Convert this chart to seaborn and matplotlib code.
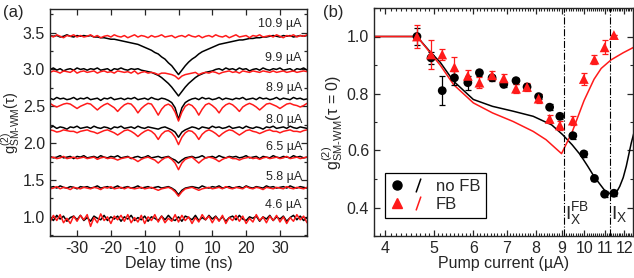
import numpy as np
import matplotlib
matplotlib.use("Agg")
import matplotlib.pyplot as plt
import seaborn as sns
from matplotlib.lines import Line2D
from matplotlib.path import Path
from matplotlib.legend_handler import HandlerTuple
from matplotlib.ticker import FixedLocator, NullFormatter, MultipleLocator

# ---------------- panel (a): g2 traces, deviations from baseline in 1/100 ----
tau = np.arange(-38, 39, 1)

labels_a = ["10.9 µA", "9.9 µA", "8.9 µA", "8.0 µA", "6.5 µA", "5.8 µA", "4.6 µA"]
label_y = [3.62, 3.15, 2.75, 2.32, 1.95, 1.54, 1.16]
base_black = [3.45, 3.00, 2.60, 2.21, 1.81, 1.40, 0.98]
base_red = [3.45, 2.97, 2.53, 2.17, 1.80, 1.39, 0.97]

bk109 = [1, 0, 1, -1, 0, 2, 0, -1, 1, 0, 1,
         0, 1, -1, -1, -2, -2, -3, -4, -4, -5, -6,
         -7, -8, -9, -10, -11, -13, -15, -17, -19, -22, -24,
         -28, -31, -36, -40, -46, -52, -46, -40, -35, -31, -28,
         -24, -21, -19, -17, -15, -13, -11, -10, -9, -8, -7,
         -6, -5, -5, -4, -3, -3, -2, -2, -1, -1, 0,
         1, 0, -1, 1, 0, 1, -1, 0, 1, 0, 1]
rd109 = [1, -1, 2, 0, -2, 1, 0, 2, -1, 1, -1,
         0, 2, -1, 1, -2, 0, 1, -1, 2, 0, -1,
         1, -2, 0, 2, -1, 1, 0, -2, 1, -1, 0,
         2, -1, 0, 1, -2, 0, 1, -1, 2, 0, -1,
         1, -2, 0, 1, -1, 2, 0, -1, 1, -2, 0,
         2, -1, 0, 1, -2, 1, 0, 2, -1, 0, 1,
         -1, 2, 0, -2, 1, 0, 2, -1, 1, 0, 2]
bk99 = [0, 2, -1, 1, -2, 0, 1, -1, 2, 0, 1,
        -1, 1, 0, 2, -1, 0, 1, -2, 1, 0, 2,
        0, -1, 1, 0, 1, -1, -2, -3, -4, -6, -8,
        -11, -15, -19, -24, -30, -36, -30, -24, -19, -15, -11,
        -8, -6, -4, -3, -2, 0, 1, -1, 2, 0, 1,
        -1, 2, 0, 1, -2, 0, 1, -1, 2, 0, -1,
        1, 0, 2, -1, 0, 1, -2, 1, 0, 2, -1]
rd99 = [-1, 1, 0, -2, 1, 0, -1, 2, -2, 0, 1,
        -1, 0, 1, -2, 0, 1, -1, 0, -2, 1, 0,
        -1, 0, -2, 1, -3, -1, 0, -2, -1, -2, -4,
        -2, -2, -3, -4, -6, -10, -6, -4, -3, -2, -1,
        -4, -2, -1, -2, 0, -1, -3, -1, 0, 1, -1,
        0, -2, 1, 0, -1, 1, 0, -1, 1, 0, -1,
        1, -1, 0, 1, -1, 0, 1, -1, 0, 1, 0]
bk89 = [1, -1, 2, 0, 1, -1, 0, 2, -1, 1, 0,
        2, -1, 0, 1, -2, 1, 0, 2, -1, 0, 1,
        -1, 1, 0, 2, -1, 0, 1, -1, 2, 0, -1,
        1, 0, -2, -5, -12, -28, -12, -5, -2, 0, 1,
        -1, 2, 0, 1, -1, 0, 2, -1, 1, 0, -1,
        1, 0, 2, -1, 0, 1, -1, 2, 0, 1, -1,
        0, 2, -1, 1, 0, -1, 2, 0, 1, -1, 0]
rd89 = [1, -2, -4, -2, 0, 1, 0, -3, -6, -3, -1,
        1, 0, -4, -8, -4, -1, 1, -2, -5, -10, -5,
        -1, 1, 0, -5, -12, -6, -2, 1, 0, -7, -15,
        -7, -2, 0, -3, -11, -23, -11, -3, 0, -2, -7,
        -15, -7, -1, 1, -2, -6, -12, -5, -1, 1, -1,
        -5, -10, -4, -1, 1, -1, -4, -8, -4, 0, 1,
        -1, -3, -6, -3, 0, 1, -1, -2, -4, -2, 1]
bk80 = [0, 2, -1, 1, 0, -2, 1, 0, 2, -1, 0,
        1, -1, 2, 0, -1, 1, 0, -2, 1, 0, 2,
        -1, 0, 1, -1, 2, 0, -1, 1, 0, -1, -2,
        0, 1, -1, -3, -6, -13, -6, -3, -1, 1, 0,
        -2, 1, 0, -1, 2, 0, 1, -1, 0, 2, -1,
        0, 1, -1, 2, 0, -1, 1, 0, -2, 1, 0,
        2, -1, 0, 1, -1, 2, 0, -1, 1, 0, -1]
rd80 = [1, 0, -2, -1, 1, 0, -1, -1, -3, -1, 0,
        1, -1, -2, -4, -2, 0, 1, -1, -3, -6, -3,
        0, 1, -1, -4, -8, -4, -1, 1, -1, -5, -12,
        -5, -1, 0, -3, -9, -19, -9, -3, 0, -1, -5,
        -12, -5, -1, 1, -1, -4, -8, -4, -1, 1, 0,
        -3, -6, -3, 0, 1, -1, -2, -4, -2, 0, 1,
        -1, -1, -3, -1, 0, 1, -1, -1, -2, 0, 1]
bk65 = [1, -1, 0, 2, -1, 0, 1, -2, 1, 0, 2,
        -1, 0, 1, -1, 2, 0, -1, 1, 0, 2, -1,
        0, 1, -2, 0, 1, -1, 0, 2, -1, 0, 1,
        -1, 0, 1, -2, -4, -8, -4, -1, 0, 1, -1,
        0, 2, -1, 0, 1, -1, 2, 0, -1, 1, 0,
        1, -1, 0, 2, -1, 0, 1, -2, 1, 0, -1,
        2, 0, -1, 1, 0, -1, 2, 0, 1, -1, 0]
rd65 = [0, 1, -1, 0, 2, -1, 0, 1, -1, 0, 1,
        -1, 0, 1, -2, 0, 1, -1, 0, -1, -3, -1,
        0, 1, 0, -2, -5, -2, 0, 1, -1, -3, -7,
        -3, 0, 1, -2, -7, -16, -7, -2, 0, 1, -3,
        -7, -3, 0, 1, 0, -2, -5, -2, 0, 1, -1,
        -1, -3, -1, 0, 1, -1, 0, -2, 0, 1, -1,
        0, 1, -1, 0, 2, -1, 0, 1, -1, 0, 1]
bk58 = [0, 1, -1, 2, 0, -1, 1, 0, -2, 1, 0,
        1, -1, 0, 2, -1, 0, 1, -1, 0, 2, -1,
        0, 1, -1, 0, 2, -1, 0, 1, -1, 0, 1,
        -1, 0, 1, -1, -4, -10, -4, -1, 0, 1, 0,
        -1, 2, 0, -1, 1, 0, 2, -1, 0, 1, -1,
        0, 1, -1, 2, 0, -1, 1, 0, -1, 2, 0,
        1, -1, 0, 1, -1, 2, 0, -1, 1, 0, -1]
rd58 = [-1, 0, 2, -1, 1, 0, -2, 1, 0, -1, 1,
        0, -1, 1, 0, -2, 1, 0, 2, -1, 0, 1,
        -1, 1, 0, -1, 0, 1, -1, 0, 1, -1, -3,
        -1, 0, 1, -1, -5, -11, -5, -1, 0, 1, -1,
        -3, -1, 0, 1, -1, 0, 1, -1, 2, 0, -1,
        1, 0, -1, 2, 0, -1, 1, 0, -2, 1, 0,
        -1, 1, 0, -1, 2, 0, -1, 1, 0, -1, 1]
bk46 = [2, -3, 4, -1, 3, -4, 1, 3, -2, 4, -3,
        1, -4, 3, 0, -2, 4, -3, 2, -1, 3, -4,
        2, -1, 4, -3, 1, -2, 3, -4, 2, 0, -3,
        3, -2, 4, -1, -3, 2, -4, 3, 1, -2, 4,
        -3, 1, -2, 4, -1, 3, -3, 2, -4, 1, 3,
        -2, 4, -1, -3, 2, 0, 3, -4, 2, -1, 4,
        -3, 2, -1, 3, -4, 1, 4, -2, 3, -3, 1]
rd46 = [-4, 5, -2, 6, -5, 1, -6, 4, -3, 5, -1,
        6, -10, 2, -5, 7, -2, 3, -6, 4, -1, 5,
        -3, 6, -5, 2, -4, 5, -6, 3, -2, 6, -4,
        4, -5, 1, -3, 6, -4, 5, -2, 3, -6, 2,
        -4, 6, -1, 4, -5, 3, -3, 5, -6, 2, -2,
        5, -3, 4, -6, 1, -4, 6, -2, 3, -5, 4,
        -2, 5, -4, 3, -6, 2, -3, 6, -1, 4, -5]

black_traces = [bk109, bk99, bk89, bk80, bk65, bk58, bk46]
red_traces = [rd109, rd99, rd89, rd80, rd65, rd58, rd46]

# ---------------- panel (b): g2(0) vs pump current ----------------------
current = [4.63, 4.94, 5.20, 5.50, 5.85, 6.17, 6.54, 6.90, 7.30, 7.68,
           8.10, 8.52, 8.93, 9.48, 9.97, 10.47, 10.97, 11.45]
g_nofb = [1.00, 0.925, 0.81, 0.855, 0.838, 0.873, 0.855, 0.832, 0.845, 0.823,
          0.789, 0.752, 0.72, 0.652, 0.588, 0.502, 0.447, 0.45]
err_nofb = [0.03, 0.02, 0.052, 0.025, 0.025, 0.01, 0.01, 0.01, 0.01, 0.01,
            0.01, 0.01, 0.01, 0.01, 0.01, 0.01, 0.01, 0.01]
g_fb = [1.00, 0.937, 0.937, 0.892, 0.862, 0.838, 0.864, 0.853, 0.817, 0.823,
        0.782, 0.711, 0.688, 0.705, 0.851, 0.919, 0.962, 1.005]
err_fb = [0.04, 0.05, 0.02, 0.035, 0.02, 0.02, 0.015, 0.015, 0.015, 0.015,
          0.015, 0.015, 0.015, 0.015, 0.02, 0.015, 0.025, 0.0]

model_I_nofb = [3.8, 4.63, 4.92, 5.15, 5.48, 6.0, 6.55, 7.2, 7.9, 8.6, 9.04,
                9.45, 9.81, 10.15, 10.45, 10.95, 11.2, 11.4, 11.6, 11.76,
                11.95, 12.12, 12.4, 12.6]
model_g_nofb = [1.0, 1.0, 0.946, 0.91, 0.843, 0.779, 0.755, 0.738, 0.72, 0.69,
                0.656, 0.62, 0.585, 0.545, 0.509, 0.462, 0.45, 0.445, 0.455,
                0.474, 0.505, 0.545, 0.626, 0.673]
model_I_fb = [3.8, 4.63, 4.92, 5.15, 5.48, 6.0, 6.55, 7.2, 7.9, 8.38, 9.0,
              9.45, 9.98, 10.45, 10.8, 11.3, 11.95, 12.6]
model_g_fb = [1.0, 1.0, 0.943, 0.90, 0.831, 0.767, 0.732, 0.702, 0.667, 0.638,
              0.589, 0.665, 0.775, 0.85, 0.888, 0.918, 0.943, 0.964]

I_x_fb = 9.1
I_x = 11.25
xticks_b = [4, 5, 6, 7, 8, 9, 10, 11, 12]

# ---------------- style ----------------
sns.set_style("ticks")
plt.rcParams["font.family"] = ["Liberation Sans", "DejaVu Sans"]
plt.rcParams["mathtext.fontset"] = "custom"
plt.rcParams["mathtext.rm"] = "Liberation Sans"
plt.rcParams["mathtext.it"] = "Liberation Sans:italic"
plt.rcParams["axes.unicode_minus"] = False
plt.rcParams["xtick.direction"] = "in"
plt.rcParams["ytick.direction"] = "in"
plt.rcParams["xtick.top"] = True
plt.rcParams["ytick.right"] = True
plt.rcParams["axes.linewidth"] = 1.0

fs = 11.5
fig = plt.figure(figsize=(6.34, 2.78), dpi=100)
ax1 = fig.add_axes([50 / 634, 42 / 278, 257 / 634, 227 / 278])
ax2 = fig.add_axes([374 / 634, 42 / 278, 259 / 634, 228 / 278])

# panel (a)
for lab, ly, bb, br, bk, rd in zip(labels_a, label_y, base_black, base_red,
                                   black_traces, red_traces):
    sns.lineplot(x=tau, y=bb + np.array(bk) / 100, color="black", lw=1.1,
                 ax=ax1, sort=False)
    sns.lineplot(x=tau, y=br + np.array(rd) / 100, color="#ff1a1a", lw=1.1,
                 ax=ax1, sort=False)
    ax1.text(36.5, ly, lab, ha="right", va="center", fontsize=9)

ax1.set_xlim(-38, 38)
ax1.set_ylim(0.74, 3.82)
ax1.xaxis.set_major_locator(MultipleLocator(10))
ax1.yaxis.set_major_locator(MultipleLocator(0.5))
ax1.yaxis.set_minor_locator(MultipleLocator(0.25))
ax1.tick_params(which="major", length=4, width=0.9, labelsize=fs)
ax1.tick_params(which="minor", length=2.5, width=0.9, left=True, right=True)
ax1.set_xlabel("Delay time (ns)", fontsize=fs, labelpad=0)
ax1.set_ylabel(r"g$^{(2)}_{\mathrm{SM}\text{-}\mathrm{WM}}$(τ)", fontsize=10.5,
               labelpad=0)
fig.text(3 / 634, 1 - 13 / 278, "(a)", fontsize=12, va="center")

# panel (b)
ax2.set_xscale("log")
sns.lineplot(x=model_I_nofb, y=model_g_nofb, color="black", lw=1.1, ax=ax2,
             sort=False)
sns.lineplot(x=model_I_fb, y=model_g_fb, color="#ff1a1a", lw=1.1, ax=ax2,
             sort=False)
ax2.errorbar(current, g_nofb, yerr=err_nofb, fmt="none", ecolor="black",
             elinewidth=0.9, capsize=2.5, capthick=0.9)
ax2.errorbar(current, g_fb, yerr=err_fb, fmt="none", ecolor="#ff1a1a",
             elinewidth=0.9, capsize=2.5, capthick=0.9)
sns.scatterplot(x=current, y=g_nofb, color="black", marker="o", s=40,
                edgecolor="none", ax=ax2, zorder=3)
sns.scatterplot(x=current, y=g_fb, color="#ff1a1a", marker="^", s=50,
                edgecolor="none", ax=ax2, zorder=4)
for xv in (I_x_fb, I_x):
    ax2.axvline(xv, color="black", lw=0.8, ls="-.")
ax2.text(I_x_fb + 0.06, 0.36, r"$\mathrm{I}_\mathrm{X}^\mathrm{FB}$",
         fontsize=14, ha="left", va="baseline")
ax2.text(I_x + 0.06, 0.36, r"$\mathrm{I}_\mathrm{X}$", fontsize=14,
         ha="left", va="baseline")

ax2.set_xlim(3.8, 12.5)
ax2.set_ylim(0.3, 1.1)
ax2.set_xticks(xticks_b)
ax2.set_xticklabels([str(v) for v in xticks_b])
minor_b = [m / 10 for m in range(38, 126) if m % 10 != 0]
ax2.xaxis.set_minor_locator(FixedLocator(minor_b))
ax2.xaxis.set_minor_formatter(NullFormatter())
ax2.yaxis.set_major_locator(MultipleLocator(0.2))
ax2.yaxis.set_minor_locator(MultipleLocator(0.1))
ax2.tick_params(which="major", length=4, width=0.9, labelsize=fs)
ax2.tick_params(which="minor", length=2, width=0.8)
ax2.set_xlabel("Pump current (µA)", fontsize=fs, labelpad=0)
ax2.set_ylabel(r"g$^{(2)}_{\mathrm{SM}\text{-}\mathrm{WM}}$(τ = 0)",
               fontsize=fs, labelpad=1)
fig.text(323 / 634, 1 - 13 / 278, "(b)", fontsize=12, va="center")

slash = Path([(-0.35, -1.0), (0.35, 1.0)], [Path.MOVETO, Path.LINETO])
h_nofb = (Line2D([], [], ls="none", marker="o", color="black", markersize=6.5),
          Line2D([], [], ls="none", marker=slash, color="black",
                 markersize=10, markeredgewidth=1.1))
h_fb = (Line2D([], [], ls="none", marker="^", color="#ff1a1a", markersize=7.5),
        Line2D([], [], ls="none", marker=slash, color="#ff1a1a",
               markersize=10, markeredgewidth=1.1))
leg = ax2.legend([h_nofb, h_fb], ["no FB", "FB"],
                 handler_map={tuple: HandlerTuple(ndivide=None, pad=0.6)},
                 loc="lower left", bbox_to_anchor=(0.042, 0.079),
                 borderaxespad=0, fancybox=False, framealpha=1,
                 edgecolor="black", fontsize=12, handlelength=2.0,
                 handletextpad=0.7, borderpad=0.35, labelspacing=0.2)
leg.get_frame().set_linewidth(0.9)

fig.savefig("out.png", dpi=100)
